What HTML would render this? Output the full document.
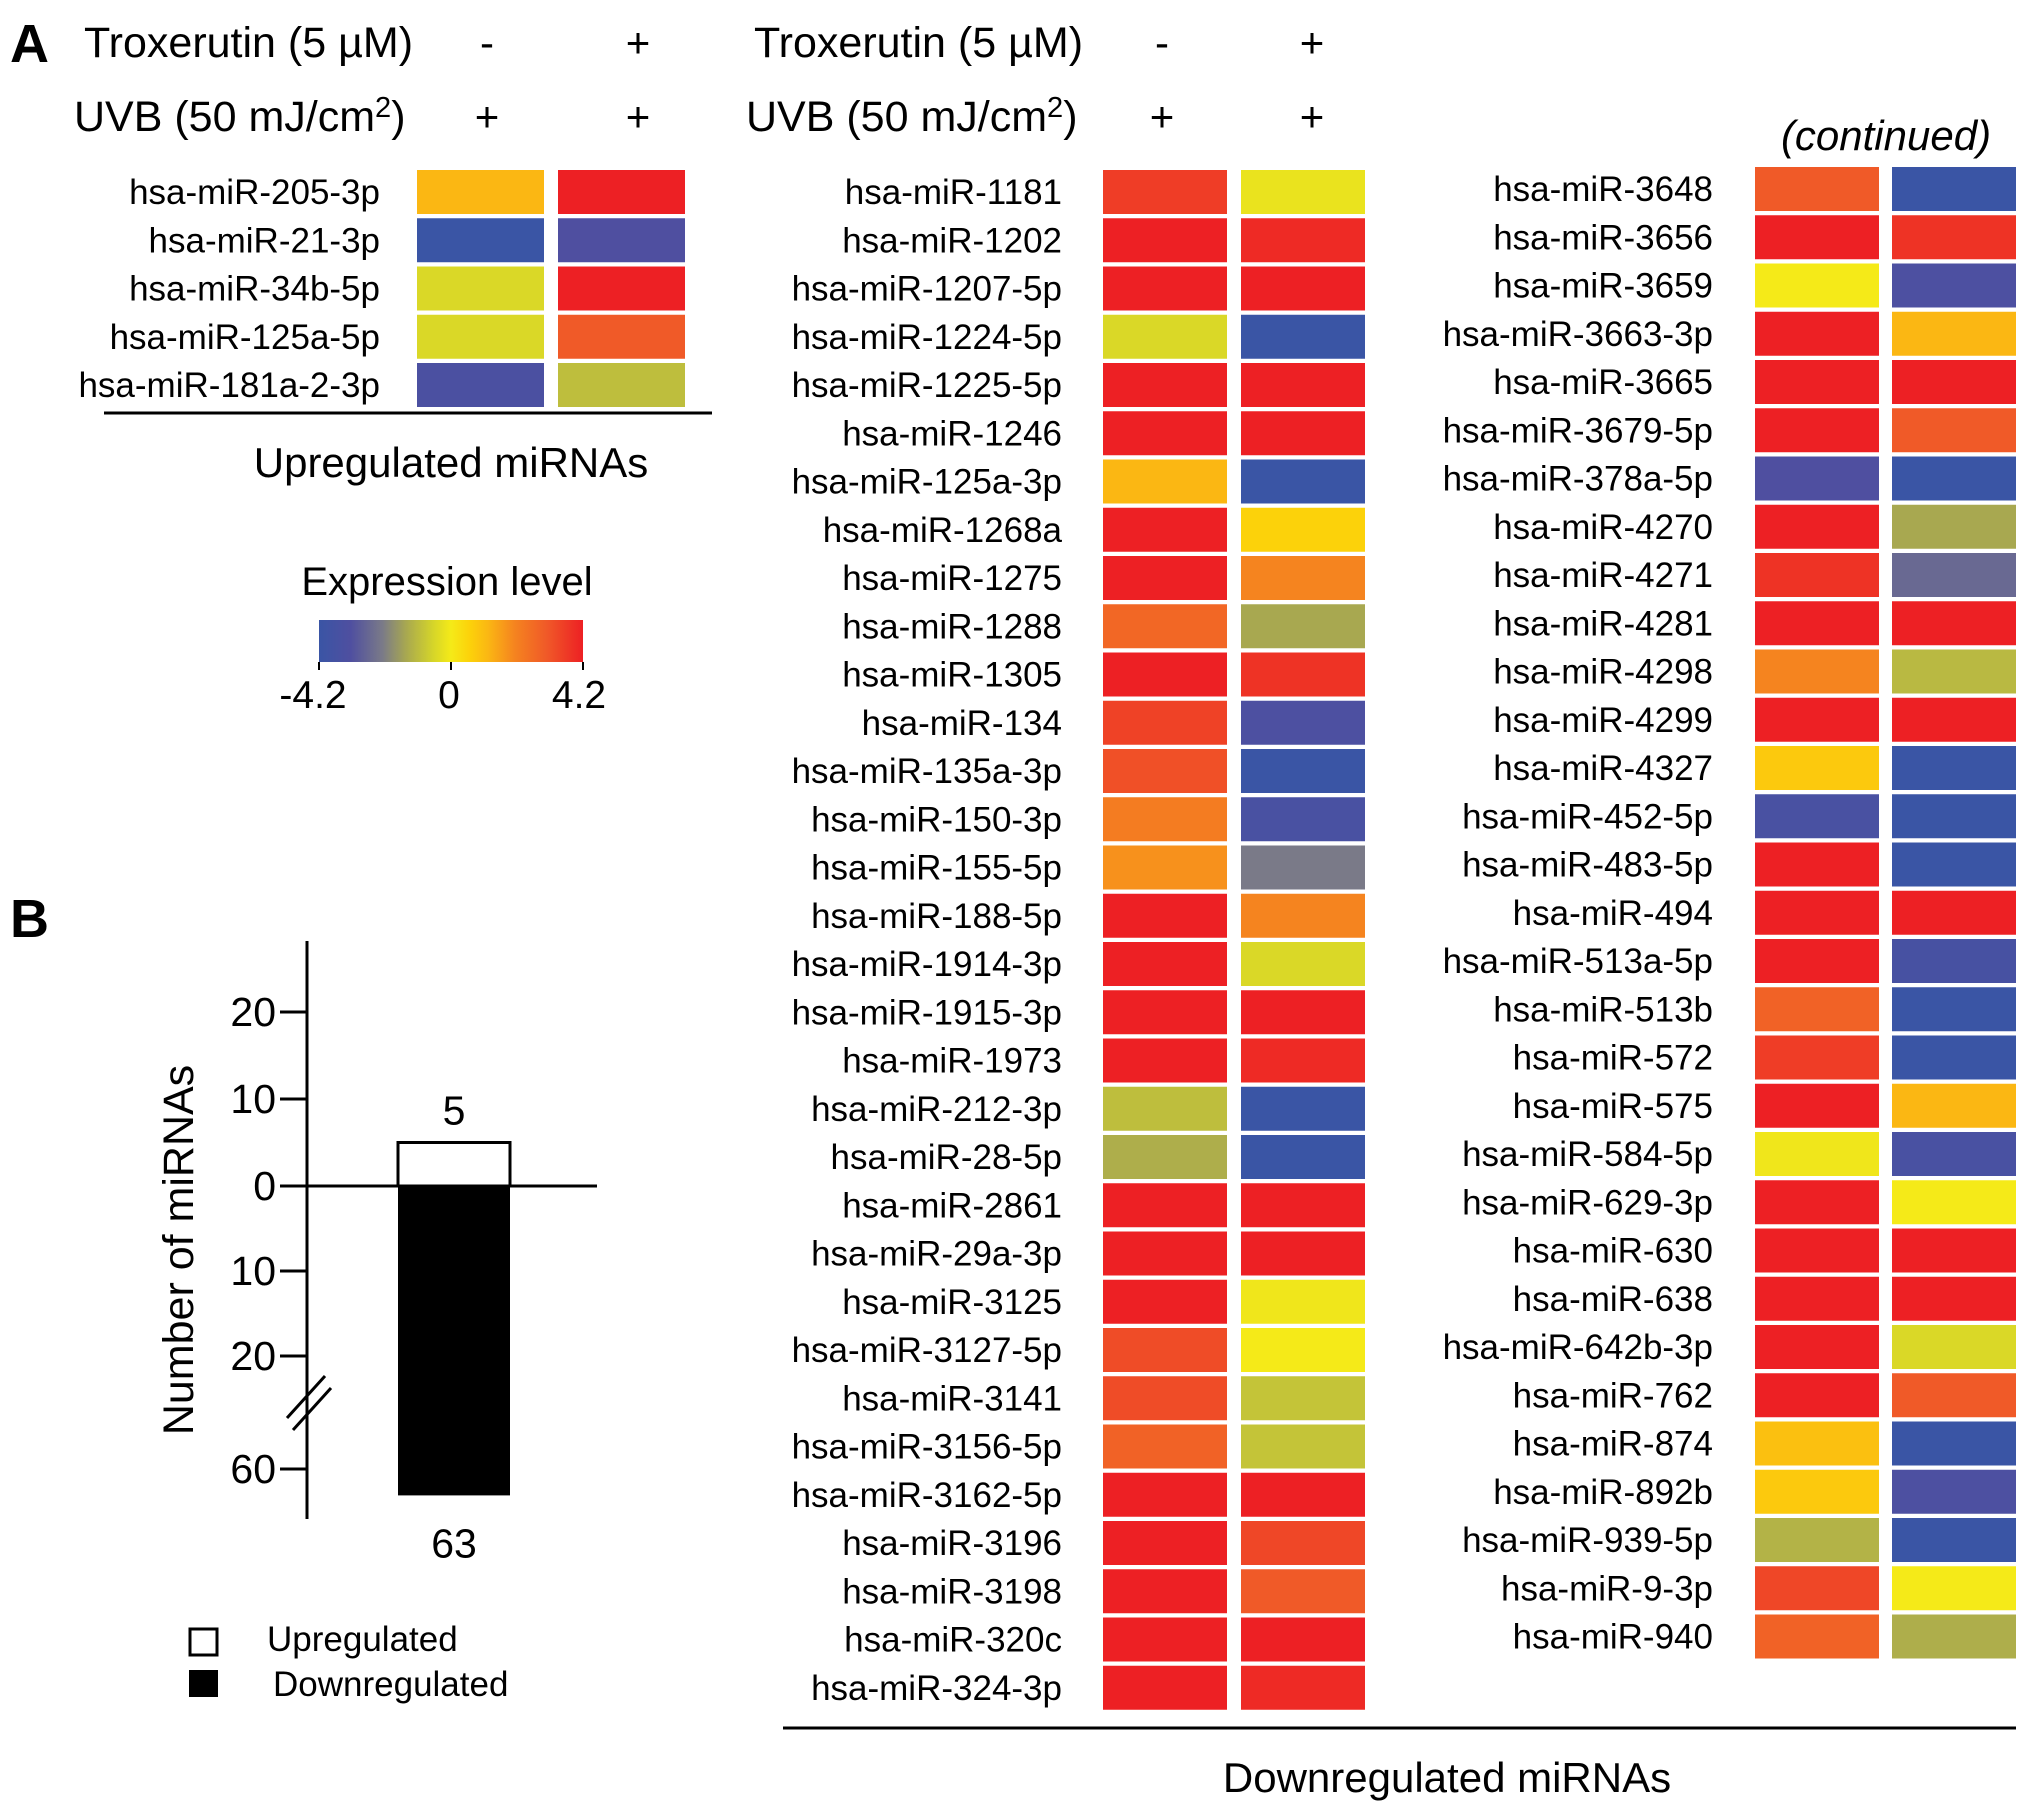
<!DOCTYPE html>
<html><head><meta charset="utf-8"><style>
html,body{margin:0;padding:0;background:#fff}
svg{display:block;font-family:"Liberation Sans",Arial,sans-serif}
</style></head><body>
<svg id="fig" width="2031" height="1816" viewBox="0 0 2031 1816" xmlns="http://www.w3.org/2000/svg">
<defs>
<linearGradient id="cbar" x1="0" x2="1" y1="0" y2="0">
<stop offset="0" stop-color="#3a55a5"/><stop offset="0.12" stop-color="#4f4fa0"/><stop offset="0.24" stop-color="#7a7a88"/><stop offset="0.33" stop-color="#a8a850"/><stop offset="0.43" stop-color="#d4d42a"/><stop offset="0.5" stop-color="#f5ea18"/><stop offset="0.57" stop-color="#fcd20a"/><stop offset="0.64" stop-color="#fbb713"/><stop offset="0.74" stop-color="#f5841f"/><stop offset="0.86" stop-color="#f05a28"/><stop offset="1" stop-color="#ed2024"/>
</linearGradient>
</defs>
<g id="static">
<text x="10" y="62" font-size="54" font-weight="bold">A</text>
<text x="10" y="937" font-size="54" font-weight="bold">B</text>
<text x="84" y="57" font-size="43">Troxerutin (5 µM)</text>
<text x="74" y="131" font-size="43">UVB (50 mJ/cm<tspan dy="-14" font-size="29">2</tspan><tspan dy="14">)</tspan></text>
<text x="487" y="57" font-size="42" text-anchor="middle">-</text>
<text x="638" y="57" font-size="42" text-anchor="middle">+</text>
<text x="487" y="131" font-size="42" text-anchor="middle">+</text>
<text x="638" y="131" font-size="42" text-anchor="middle">+</text>
<text x="754" y="57" font-size="43">Troxerutin (5 µM)</text>
<text x="746" y="131" font-size="43">UVB (50 mJ/cm<tspan dy="-14" font-size="29">2</tspan><tspan dy="14">)</tspan></text>
<text x="1162" y="57" font-size="42" text-anchor="middle">-</text>
<text x="1312" y="57" font-size="42" text-anchor="middle">+</text>
<text x="1162" y="131" font-size="42" text-anchor="middle">+</text>
<text x="1312" y="131" font-size="42" text-anchor="middle">+</text>
<text x="1886" y="150" font-size="42" text-anchor="middle" font-style="italic">(continued)</text>
<line x1="104" y1="413" x2="712" y2="413" stroke="#000" stroke-width="3"/>
<text x="451" y="477" font-size="42" text-anchor="middle">Upregulated miRNAs</text>
<line x1="783" y1="1728" x2="2016" y2="1728" stroke="#000" stroke-width="3"/>
<text x="1447" y="1792" font-size="42" text-anchor="middle">Downregulated miRNAs</text>
<text x="447" y="595" font-size="40" text-anchor="middle">Expression level</text>
<rect x="319" y="620" width="264" height="42" fill="url(#cbar)"/>
<line x1="319" y1="662" x2="319" y2="670" stroke="#000" stroke-width="2"/>
<line x1="451" y1="662" x2="451" y2="670" stroke="#000" stroke-width="2"/>
<line x1="583" y1="662" x2="583" y2="670" stroke="#000" stroke-width="2"/>
<text x="313" y="708" font-size="39" text-anchor="middle">-4.2</text>
<text x="449" y="708" font-size="39" text-anchor="middle">0</text>
<text x="579" y="708" font-size="39" text-anchor="middle">4.2</text>
<text transform="translate(193,1250) rotate(-90)" font-size="43" text-anchor="middle">Number of miRNAs</text>
<rect x="190" y="1629" width="27" height="26" fill="#fff" stroke="#000" stroke-width="3"/>
<text x="267" y="1651" font-size="35">Upregulated</text>
<rect x="189" y="1670" width="29" height="27" fill="#000"/>
<text x="273" y="1696" font-size="35">Downregulated</text>
</g>
<g id="dyn"></g>
</svg>
<script>
const leftNames=["hsa-miR-205-3p","hsa-miR-21-3p","hsa-miR-34b-5p","hsa-miR-125a-5p","hsa-miR-181a-2-3p"];
const leftA=[1.2,-4.2,-0.5,-0.5,-3.4];
const leftB=[4.2,-3.2,4.2,3.0,-1.0];
const midNames=["hsa-miR-1181","hsa-miR-1202","hsa-miR-1207-5p","hsa-miR-1224-5p","hsa-miR-1225-5p","hsa-miR-1246","hsa-miR-125a-3p","hsa-miR-1268a","hsa-miR-1275","hsa-miR-1288","hsa-miR-1305","hsa-miR-134","hsa-miR-135a-3p","hsa-miR-150-3p","hsa-miR-155-5p","hsa-miR-188-5p","hsa-miR-1914-3p","hsa-miR-1915-3p","hsa-miR-1973","hsa-miR-212-3p","hsa-miR-28-5p","hsa-miR-2861","hsa-miR-29a-3p","hsa-miR-3125","hsa-miR-3127-5p","hsa-miR-3141","hsa-miR-3156-5p","hsa-miR-3162-5p","hsa-miR-3196","hsa-miR-3198","hsa-miR-320c","hsa-miR-324-3p"];
const midA=[3.6,4.2,4.2,-0.5,4.2,4.2,1.2,4.2,4.2,2.7,4.2,3.5,3.2,2.2,1.8,4.2,4.2,4.2,4.2,-1.0,-1.3,4.2,4.2,4.2,3.3,3.3,2.8,4.2,4.2,4.2,4.2,4.2];
const midB=[-0.2,4.0,4.2,-4.2,4.2,4.2,-4.2,0.6,2.0,-1.4,3.8,-3.3,-4.2,-3.5,-2.2,2.0,-0.5,4.2,4.0,-4.2,-4.2,4.2,4.2,-0.1,0,-0.9,-0.9,4.2,3.4,3.0,4.2,4.0];
const rightNames=["hsa-miR-3648","hsa-miR-3656","hsa-miR-3659","hsa-miR-3663-3p","hsa-miR-3665","hsa-miR-3679-5p","hsa-miR-378a-5p","hsa-miR-4270","hsa-miR-4271","hsa-miR-4281","hsa-miR-4298","hsa-miR-4299","hsa-miR-4327","hsa-miR-452-5p","hsa-miR-483-5p","hsa-miR-494","hsa-miR-513a-5p","hsa-miR-513b","hsa-miR-572","hsa-miR-575","hsa-miR-584-5p","hsa-miR-629-3p","hsa-miR-630","hsa-miR-638","hsa-miR-642b-3p","hsa-miR-762","hsa-miR-874","hsa-miR-892b","hsa-miR-939-5p","hsa-miR-9-3p","hsa-miR-940"];
const rightA=[3.0,4.2,0,4.2,4.2,4.2,-3.2,4.2,3.8,4.2,2.0,4.2,0.8,-3.5,4.2,4.2,4.2,2.8,3.6,4.2,-0.1,4.2,4.2,4.2,4.2,4.2,1.0,0.8,-1.2,3.4,2.8];
const rightB=[-4.2,3.8,-3.3,1.2,4.2,3.0,-4.2,-1.4,-2.6,4.2,-1.1,4.2,-4.2,-4.2,-4.2,4.2,-3.6,-4.2,-4.2,1.2,-3.5,0,4.2,4.2,-0.5,3.0,-4.2,-3.3,-4.2,0,-1.3];
const barCats=["Upregulated","Downregulated"];
const barValues=[5,63];
const yTicksUp=[20,10,0];
const yTicksDown=[10,20,60];

const NS="http://www.w3.org/2000/svg";
const dyn=document.getElementById('dyn');
function mk(t,a,p){const e=document.createElementNS(NS,t);for(const k in a)e.setAttribute(k,a[k]);(p||dyn).appendChild(e);return e;}
const stops=[[-4.2,[58,85,165]],[-3.2,[79,79,160]],[-2.2,[122,122,136]],[-1.4,[168,168,80]],[-0.6,[212,212,42]],[0,[245,234,24]],[0.6,[252,210,10]],[1.2,[251,183,19]],[2.0,[245,132,31]],[3.0,[240,90,40]],[4.2,[237,32,36]]];
function color(v){v=Math.max(-4.2,Math.min(4.2,v));for(let i=0;i<stops.length-1;i++){const a=stops[i],b=stops[i+1];if(v<=b[0]){const t=(v-a[0])/(b[0]-a[0]);const c=a[1].map((x,j)=>Math.round(x+(b[1][j]-x)*t));return `rgb(${c})`;}}return 'rgb(237,32,36)';}
const PITCH=48.25, CH=44;
function block(names,A,B,cy0,labelX,x1,x2,w,tag){
  names.forEach((n,i)=>{
    const cy=cy0+i*PITCH;
    const t=mk('text',{x:labelX,y:cy+12,'font-size':35,'text-anchor':'end'});
    
    
    t.textContent=n;
    const r1=mk('rect',{x:x1,y:cy-CH/2,width:w,height:CH,fill:color(A[i])});
    
    
    const r2=mk('rect',{x:x2,y:cy-CH/2,width:w,height:CH,fill:color(B[i])});
    
    
  });
}
block(leftNames,leftA,leftB,192,380,417,558,127,'upregulated');
block(midNames,midA,midB,192,1062,1103,1241,124,'downregulated');
block(rightNames,rightA,rightB,189,1713,1755,1892,124,'downregulated-continued');

const AX=307, Y0=1186, UPS=8.7, DNS=8.5, BREAK=25;
function yUp(v){return Y0-v*UPS;}
function yDown(v){return v<=BREAK?Y0+v*DNS:1469+(v-60)*8.8;}
const axis=mk('line',{x1:AX,y1:941,x2:AX,y2:1519,stroke:'#000','stroke-width':3});


const zl=mk('line',{x1:AX,y1:Y0,x2:597,y2:Y0,stroke:'#000','stroke-width':3});


function tick(y,lab){
  const l=mk('line',{x1:AX-27,y1:y,x2:AX,y2:y,stroke:'#000','stroke-width':3});
  
  
  const t=mk('text',{x:AX-31,y:y+14,'font-size':41,'text-anchor':'end'});
  
  
  t.textContent=lab;
}
yTicksUp.forEach(v=>tick(yUp(v),v));
yTicksDown.forEach(v=>tick(yDown(v),v));
const bk=mk('g',{stroke:'#000','stroke-width':3});


mk('line',{x1:287,y1:1418,x2:325,y2:1376},bk);
mk('line',{x1:293,y1:1430,x2:331,y2:1388},bk);
const BX=398,BW=112;
const up=mk('rect',{x:BX,y:yUp(barValues[0]),width:BW,height:Y0-yUp(barValues[0]),fill:'#fff',stroke:'#000','stroke-width':3});


const dn=mk('rect',{x:BX,y:Y0,width:BW,height:yDown(barValues[1])-Y0,fill:'#000'});


const l1=mk('text',{x:BX+BW/2,y:yUp(barValues[0])-18,'font-size':41,'text-anchor':'middle'});


l1.textContent=barValues[0];
const l2=mk('text',{x:BX+BW/2,y:yDown(barValues[1])+62,'font-size':41,'text-anchor':'middle'});


l2.textContent=barValues[1];
</script>
</body></html>
